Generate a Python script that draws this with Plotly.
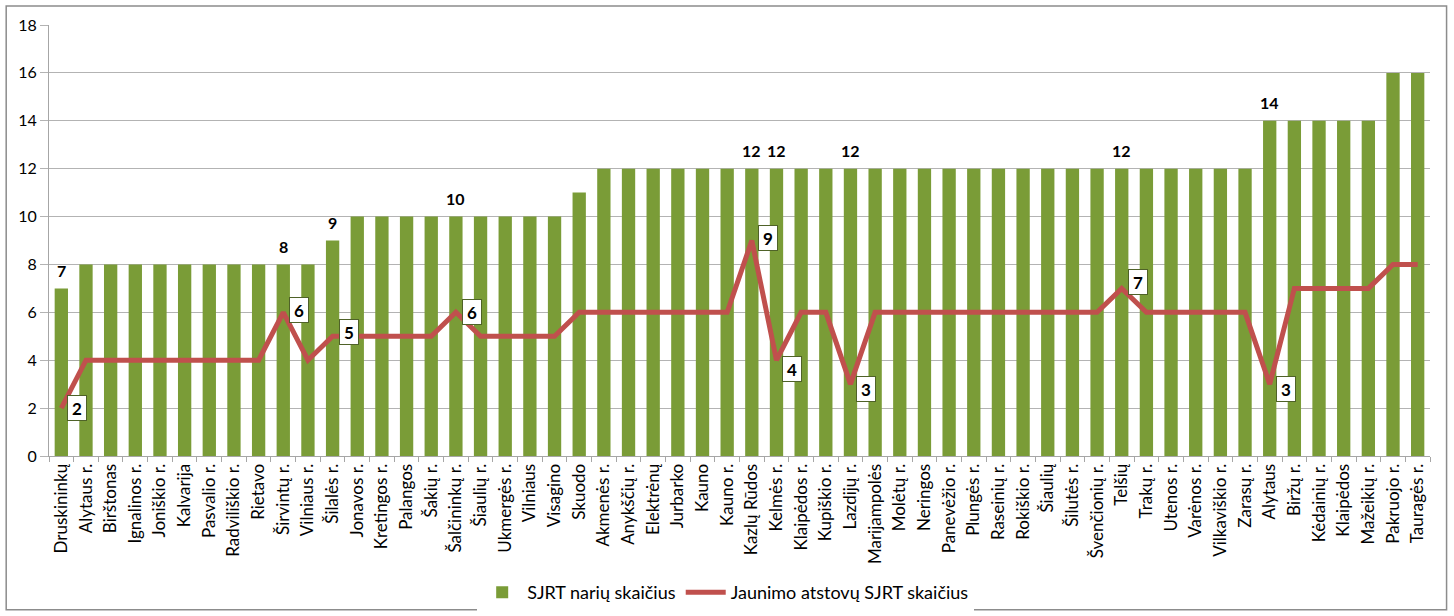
import plotly.graph_objects as go

# savivaldybės (x ašis)
categories = [
    "Druskininkų", "Alytaus r.", "Birštonas", "Ignalinos r.", "Joniškio r.", "Kalvarija",
    "Pasvalio r.", "Radviliškio r.", "Rietavo", "Širvintų r.", "Vilniaus r.", "Šilalės r.",
    "Jonavos r.", "Kretingos r.", "Palangos", "Šakių r.", "Šalčininkų r.", "Šiaulių r.",
    "Ukmergės r.", "Vilniaus", "Visagino", "Skuodo", "Akmenės r.", "Anykščių r.",
    "Elektrėnų", "Jurbarko", "Kauno", "Kauno r.", "Kazlų Rūdos", "Kelmės r.",
    "Klaipėdos r.", "Kupiškio r.", "Lazdijų r.", "Marijampolės", "Molėtų r.", "Neringos",
    "Panevėžio r.", "Plungės r.", "Raseinių r.", "Rokiškio r.", "Šiaulių", "Šilutės r.",
    "Švenčionių r.", "Telšių", "Trakų r.", "Utenos r.", "Varėnos r.", "Vilkaviškio r.",
    "Zarasų r.", "Alytaus", "Biržų r.", "Kėdainių r.", "Klaipėdos", "Mažeikių r.",
    "Pakruojo r.", "Tauragės r.",
]

# SJRT narių skaičius
members = [
    7, 8, 8, 8, 8, 8, 8, 8, 8, 8, 8, 9,
    10, 10, 10, 10, 10, 10, 10, 10, 10, 11, 12, 12,
    12, 12, 12, 12, 12, 12, 12, 12, 12, 12, 12, 12,
    12, 12, 12, 12, 12, 12, 12, 12, 12, 12, 12, 12,
    12, 14, 14, 14, 14, 14, 16, 16,
]

# Jaunimo atstovų SJRT skaičius
youth = [
    2, 4, 4, 4, 4, 4, 4, 4, 4, 6, 4, 5,
    5, 5, 5, 5, 6, 5, 5, 5, 5, 6, 6, 6,
    6, 6, 6, 6, 9, 4, 6, 6, 3, 6, 6, 6,
    6, 6, 6, 6, 6, 6, 6, 7, 6, 6, 6, 6,
    6, 3, 7, 7, 7, 7, 8, 8,
]

# kurie taškai turi duomenų žymas
bar_labelled = ["Druskininkų", "Širvintų r.", "Šilalės r.", "Šalčininkų r.", "Kazlų Rūdos",
                "Kelmės r.", "Lazdijų r.", "Telšių", "Alytaus"]
line_labelled = ["Druskininkų", "Širvintų r.", "Šilalės r.", "Šalčininkų r.", "Kazlų Rūdos",
                 "Kelmės r.", "Lazdijų r.", "Telšių", "Alytaus"]

# nedideli žymų poslinkiai (px), kaip Excel originale
line_label_dy = {"Druskininkų": 0, "Širvintų r.": 2, "Šilalės r.": 4, "Šalčininkų r.": 0,
                 "Kazlų Rūdos": 3, "Kelmės r.": -9, "Lazdijų r.": -5, "Telšių": 6, "Alytaus": -5}

FONT = "Lato, 'Open Sans', sans-serif"
GREEN = "#7a9c37"
RED = "#c0504d"

fig = go.Figure()

fig.add_trace(go.Bar(
    x=categories, y=members, name="SJRT narių skaičius",
    marker=dict(color=GREEN, line=dict(width=0)),
))
fig.add_trace(go.Scatter(
    x=categories, y=youth, name="Jaunimo atstovų SJRT skaičius",
    mode="lines", line=dict(color=RED, width=5),
))

# žymos virš stulpelių
for c in bar_labelled:
    i = categories.index(c)
    fig.add_annotation(x=c, y=members[i], text=str(members[i]), showarrow=False,
                       yshift=18, font=dict(family=FONT, size=16, color="black", weight="bold"))

# žymos prie linijos (baltame langelyje)
for c in line_labelled:
    i = categories.index(c)
    fig.add_annotation(x=c, y=youth[i], text=str(youth[i]), showarrow=False,
                       xshift=16, yshift=line_label_dy[c],
                       bgcolor="white", bordercolor="#4f6228", borderwidth=1, borderpad=3,
                       width=12, height=18,
                       font=dict(family=FONT, size=17, color="black", weight="bold"))

# rėmelis aplink visą diagramą
fig.add_shape(type="rect", xref="paper", yref="paper",
              x0=-0.031, x1=1.012, y0=-0.357, y1=1.044,
              line=dict(color="#8c8c8c", width=1.5), fillcolor="rgba(0,0,0,0)", layer="below")

fig.update_layout(
    width=1454, height=616,
    margin=dict(l=49, r=24, t=25, b=160, autoexpand=False),
    paper_bgcolor="white", plot_bgcolor="white",
    bargap=0.46,
    font=dict(family=FONT, size=14, color="black"),
    legend=dict(orientation="h", x=0.49, xanchor="center",
                yref="container", y=0.038, yanchor="middle",
                font=dict(size=18), traceorder="normal", itemwidth=40),
    showlegend=True,
)
fig.update_xaxes(
    type="category", tickangle=-90, tickfont=dict(size=17), automargin=False,
    ticks="outside", tickson="boundaries", ticklen=5, tickcolor="#a6a6a6",
    showline=True, linecolor="#a6a6a6", linewidth=1, showgrid=False,
)
fig.update_yaxes(
    range=[0, 18], dtick=2, tickfont=dict(size=16), automargin=False,
    ticks="outside", ticklen=8, tickcolor="#b3b3b3",
    showgrid=True, gridcolor="#b3b3b3", gridwidth=1,
    showline=True, linecolor="#a6a6a6", linewidth=1, zeroline=False,
)

# be numatytosios 8px paraštės aplink puslapį
fig.write_html("out.html", config={"displayModeBar": False},
               post_script="document.body.style.margin='0';")
